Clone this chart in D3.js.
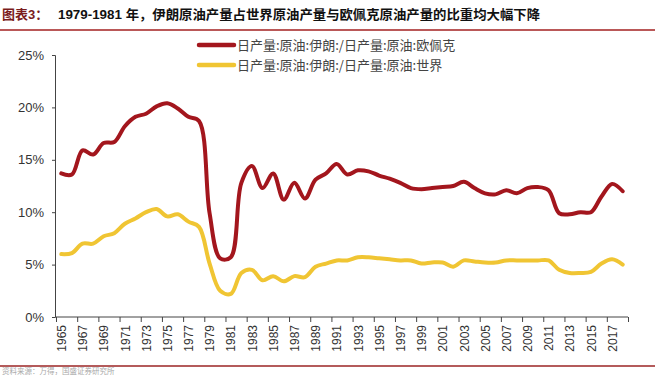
<!DOCTYPE html>
<html><head><meta charset="utf-8">
<script src="https://cdn.jsdelivr.net/npm/d3@7/dist/d3.min.js"></script>
<style>
body{margin:0;background:#fff;}
svg{display:block;}
</style></head>
<body>
<svg id="c" width="660" height="375"></svg>
<script>
const years = d3.range(1965, 2019);
const opecShare = [13.7,13.6,15.9,15.5,16.6,16.7,18.2,19.1,19.4,20.1,20.4,19.9,19.1,18.7,9.9,5.6,5.7,12.8,14.4,12.3,13.7,11.2,12.8,11.3,13.1,13.7,14.6,13.6,14.0,13.9,13.5,13.2,12.8,12.3,12.2,12.3,12.4,12.5,12.9,12.3,11.8,11.7,12.1,11.8,12.3,12.4,12.1,9.9,9.8,10.0,10.0,11.5,12.7,12.0];
const worldShare = [6.0,6.1,7.0,7.0,7.7,8.0,8.9,9.4,10.0,10.3,9.6,9.8,9.1,8.6,5.1,2.5,2.2,4.2,4.5,3.5,3.9,3.4,3.9,3.8,4.8,5.1,5.4,5.4,5.7,5.7,5.6,5.5,5.4,5.4,5.1,5.2,5.2,4.8,5.4,5.3,5.2,5.2,5.4,5.4,5.4,5.4,5.4,4.5,4.2,4.2,4.3,5.1,5.5,5.0];
const yTicks = [0,5,10,15,20,25];
const labelYears = d3.range(1965, 2018, 2);
const seriesNames = ["日产量:原油:伊朗:/日产量:原油:欧佩克","日产量:原油:伊朗:/日产量:原油:世界"];
const seriesColors = ["#a3161d","#f0c533"];
const title1 = "图表3：";
const title2 = "1979-1981 年，伊朗原油产量占世界原油产量与欧佩克原油产量的比重均大幅下降";
const source = "资料来源：万得，国盛证券研究所";

const svg = d3.select("#c");
const x = d3.scaleLinear().domain([1964.5, 2018.5]).range([56, 628]);
const y = d3.scaleLinear().domain([0, 25]).range([317, 55]);

// title
svg.append("text").attr("x",2).attr("y",19).attr("font-family","Liberation Sans, Noto Sans CJK SC, sans-serif")
  .attr("font-size",13).attr("font-weight","bold").attr("fill","#7a1c1c").text(title1);
svg.append("text").attr("x",58).attr("y",19).attr("font-family","Liberation Sans, Noto Sans CJK SC, sans-serif")
  .attr("font-size",13).attr("font-weight","bold").attr("fill","#111").attr("textLength",482).attr("lengthAdjust","spacingAndGlyphs").text(title2);
svg.append("line").attr("x1",0).attr("x2",655).attr("y1",30).attr("y2",30).attr("stroke","#a32020").attr("stroke-width",1.5);
svg.append("line").attr("x1",0).attr("x2",655).attr("y1",366).attr("y2",366).attr("stroke","#9b2525").attr("stroke-width",1.5);
svg.append("text").attr("x",2).attr("y",374).attr("font-family","Noto Sans CJK SC, sans-serif").attr("font-size",7.5).attr("fill","#aaa").text(source);

// y axis
const yAxis = d3.axisLeft(y).tickValues(yTicks).tickSize(3).tickPadding(8).tickFormat(d => d + "%");
const gy = svg.append("g").attr("transform","translate(55,0)").call(yAxis);
gy.selectAll("text").attr("font-family","Liberation Sans, Arial, sans-serif").attr("font-size",13).attr("fill","#333");
gy.selectAll("path,line").attr("stroke","#444");

// x axis tick marks
const boundaries = d3.range(1964.5, 2017, 2).concat([2018.5]);
const gxt = svg.append("g").attr("transform","translate(0,317)")
  .call(d3.axisBottom(x).tickValues(boundaries).tickSize(5).tickFormat(""));
gxt.selectAll("path,line").attr("stroke","#444");
gxt.select("path").attr("d","M56,0H628");
const gxl = svg.append("g").attr("transform","translate(0,317)")
  .call(d3.axisBottom(x).tickValues(labelYears).tickSize(0).tickFormat(d3.format("d")));
gxl.select("path").remove();
gxl.selectAll("text").attr("transform","rotate(-90)").attr("x",-8).attr("y",0).attr("dy","0.35em")
  .style("text-anchor","end").attr("font-family","Liberation Sans, Arial, sans-serif").attr("font-size",12).attr("fill","#333");

// lines
const line = d3.line().x((d,i) => x(years[i])).y(d => y(d)).curve(d3.curveCatmullRom.alpha(0.5));
[opecShare, worldShare].forEach((s,k) => {
  svg.append("path").datum(s).attr("d", line).attr("fill","none").attr("stroke",seriesColors[k])
    .attr("stroke-width",4).attr("stroke-linejoin","round").attr("stroke-linecap","round");
});

// legend
seriesNames.forEach((n,k) => {
  const ly = 45 + k*20;
  svg.append("line").attr("x1",199).attr("x2",234).attr("y1",ly).attr("y2",ly)
    .attr("stroke",seriesColors[k]).attr("stroke-width",4.5).attr("stroke-linecap","round");
  svg.append("text").attr("x",237).attr("y",ly+5).attr("font-family","Noto Sans CJK SC, sans-serif")
    .attr("font-size",13).attr("fill","#444").text(n);
});
</script>
</body></html>
